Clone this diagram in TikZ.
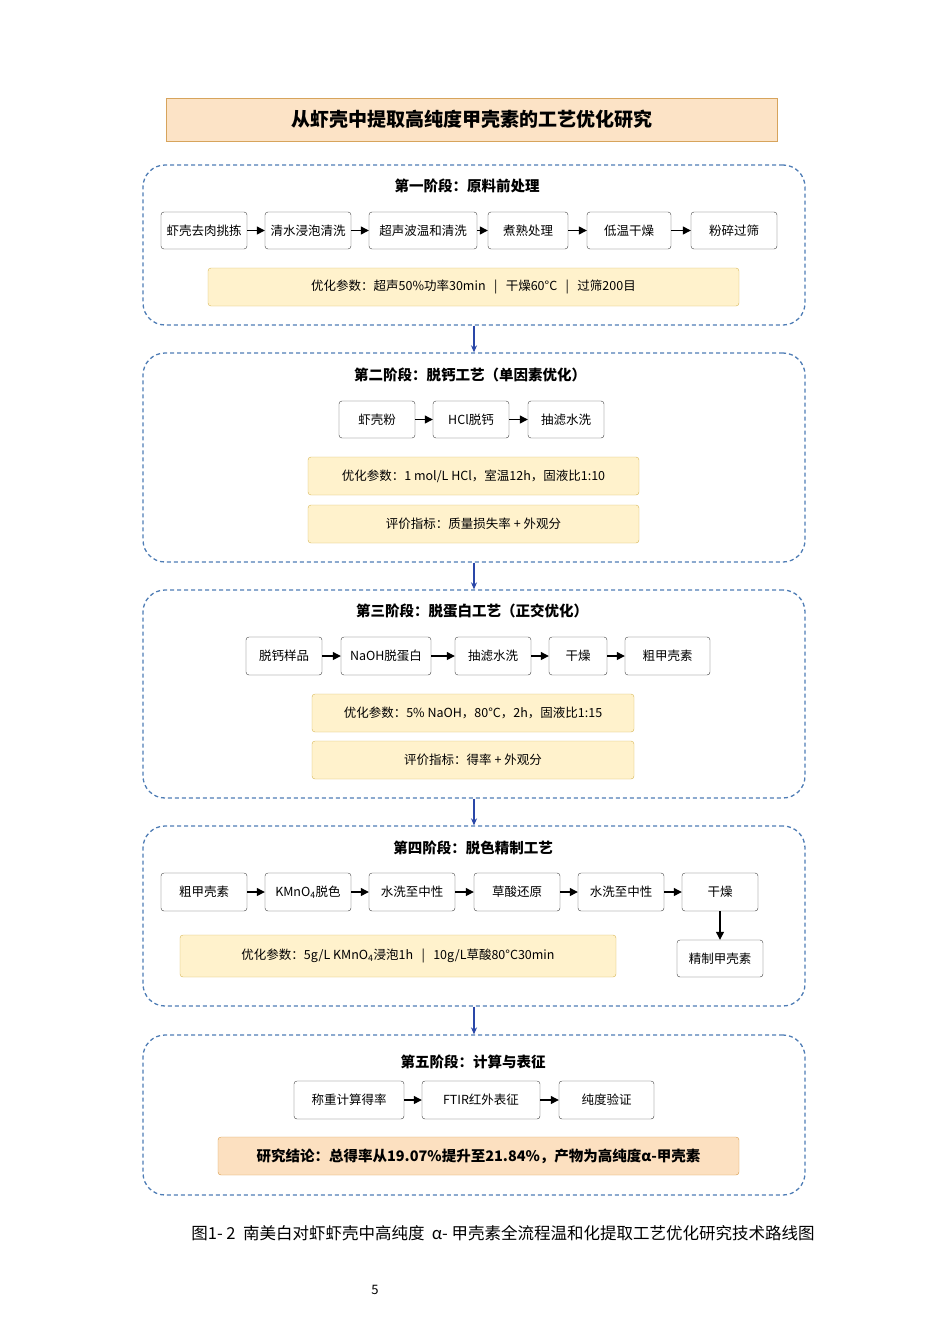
\documentclass[tikz,border=0pt]{standalone}
\usepackage{fontspec}
\setmainfont{Noto Sans CJK SC}
\usetikzlibrary{arrows.meta}
\definecolor{stageblue}{HTML}{4F7DB5}
\definecolor{linkblue}{HTML}{2A47A8}
\definecolor{parfill}{HTML}{FFF2CC}
\definecolor{pardraw}{HTML}{D6B656}
\definecolor{headfill}{HTML}{FCE3C6}
\definecolor{headdraw}{HTML}{D7A45C}
\definecolor{endfill}{HTML}{FCE0C0}
\definecolor{enddraw}{HTML}{D79B4A}
\tikzset{
  stage/.style={draw=stageblue, line width=1.3pt, dash pattern=on 4pt off 3pt, rounded corners=22pt, inner sep=0pt},
  proc/.style={draw=black!75, fill=white, rounded corners=3pt, inner sep=0pt, font=\fontsize{12.5}{14}\selectfont},
  param/.style={draw=pardraw, fill=parfill, rounded corners=3pt, inner sep=0pt, font=\fontsize{12.5}{14}\selectfont},
  stitle/.style={font=\fontsize{14.5}{16}\selectfont\bfseries},
  go/.style={-{Triangle[length=8pt,width=8pt]}, line width=1.2pt, black},
  link/.style={-{Stealth[length=7pt,width=6pt]}, line width=1.2pt, linkblue}
}
\newcommand{\rbox}[6]{% style, name, x1, y1, x2, y2
  \node[#1, minimum width={#5-#3}, minimum height={#6-#4}] (#2) at ({(#3+#5)/2},{(#4+#6)/2})}
\begin{document}
\begin{tikzpicture}[x=1pt, y=-1pt]
  \useasboundingbox (0,0) rectangle (950,1344);
  % title
  \rbox{draw=headdraw, fill=headfill, inner sep=0pt, font=\fontsize{19}{21}\selectfont\bfseries}{head}{166}{98}{777}{141} {从虾壳中提取高纯度甲壳素的工艺优化研究};

  % stage 1
  \rbox{stage}{s1}{143}{165}{805}{325} {};
  \node[stitle] (t1) at (467,186) {第一阶段：原料前处理};
  \rbox{proc}{a1}{161}{212}{247}{249} {虾壳去肉挑拣};
  \rbox{proc}{a2}{265}{212}{351}{249} {清水浸泡清洗};
  \rbox{proc}{a3}{369}{212}{477}{249} {超声波温和清洗};
  \rbox{proc}{a4}{488}{212}{568}{249} {煮熟处理};
  \rbox{proc}{a5}{587}{212}{671}{249} {低温干燥};
  \rbox{proc}{a6}{691}{212}{777}{249} {粉碎过筛};
  \rbox{param}{p1}{208}{268}{739}{306} {优化参数：超声50\%功率30min\ \ \ |\ \ \ 干燥60°C\ \ \ |\ \ \ 过筛200目};
  \draw[go] (a1) -- (a2);
  \draw[go] (a2) -- (a3);
  \draw[go] (a3) -- (a4);
  \draw[go] (a4) -- (a5);
  \draw[go] (a5) -- (a6);

  % stage 2
  \rbox{stage}{s2}{143}{353}{805}{562} {};
  \node[stitle] (t2) at (470,375) {第二阶段：脱钙工艺（单因素优化）};
  \rbox{proc}{b1}{339}{401}{415}{438} {虾壳粉};
  \rbox{proc}{b2}{433}{401}{509}{438} {HCl脱钙};
  \rbox{proc}{b3}{528}{401}{604}{438} {抽滤水洗};
  \rbox{param}{p2}{308}{457}{639}{495} {优化参数：1 mol/L HCl，室温12h，固液比1:10};
  \rbox{param}{q2}{308}{505}{639}{543} {评价指标：质量损失率 + 外观分};
  \draw[go] (b1) -- (b2);
  \draw[go] (b2) -- (b3);

  % stage 3
  \rbox{stage}{s3}{143}{590}{805}{798} {};
  \node[stitle] (t3) at (472,611) {第三阶段：脱蛋白工艺（正交优化）};
  \rbox{proc}{c1}{246}{637}{322}{675} {脱钙样品};
  \rbox{proc}{c2}{341}{637}{431}{675} {NaOH脱蛋白};
  \rbox{proc}{c3}{455}{637}{531}{675} {抽滤水洗};
  \rbox{proc}{c4}{549}{637}{607}{675} {干燥};
  \rbox{proc}{c5}{625}{637}{710}{675} {粗甲壳素};
  \rbox{param}{p3}{312}{694}{634}{732} {优化参数：5\% NaOH，80°C，2h，固液比1:15};
  \rbox{param}{q3}{312}{741}{634}{779} {评价指标：得率 + 外观分};
  \draw[go] (c1) -- (c2);
  \draw[go] (c2) -- (c3);
  \draw[go] (c3) -- (c4);
  \draw[go] (c4) -- (c5);

  % stage 4
  \rbox{stage}{s4}{143}{826}{805}{1006} {};
  \node[stitle] (t4) at (473,848) {第四阶段：脱色精制工艺};
  \rbox{proc}{d1}{161}{873}{247}{911} {粗甲壳素};
  \rbox{proc}{d2}{265}{873}{351}{911} {KMnO\textsubscript{4}脱色};
  \rbox{proc}{d3}{369}{873}{455}{911} {水洗至中性};
  \rbox{proc}{d4}{474}{873}{560}{911} {草酸还原};
  \rbox{proc}{d5}{578}{873}{664}{911} {水洗至中性};
  \rbox{proc}{d6}{682}{873}{758}{911} {干燥};
  \rbox{proc}{d7}{677}{940}{763}{977} {精制甲壳素};
  \rbox{param}{p4}{180}{935}{616}{977} {优化参数：5g/L KMnO\textsubscript{4}浸泡1h\ \ \ |\ \ \ 10g/L草酸80°C30min};
  \draw[go] (d1) -- (d2);
  \draw[go] (d2) -- (d3);
  \draw[go] (d3) -- (d4);
  \draw[go] (d4) -- (d5);
  \draw[go] (d5) -- (d6);
  \draw[go] (d6) -- (d7);

  % stage 5
  \rbox{stage}{s5}{143}{1035}{805}{1195} {};
  \node[stitle] (t5) at (473,1062) {第五阶段：计算与表征};
  \rbox{proc}{e1}{294}{1081}{404}{1119} {称重计算得率};
  \rbox{proc}{e2}{422}{1081}{540}{1119} {FTIR红外表征};
  \rbox{proc}{e3}{559}{1081}{654}{1119} {纯度验证};
  \rbox{draw=enddraw, fill=endfill, rounded corners=3pt, font=\fontsize{14.5}{16}\selectfont\bfseries}{res}{218}{1137}{739}{1175} {研究结论：总得率从19.07\%提升至21.84\%，产物为高纯度α-甲壳素};
  \draw[go] (e1) -- (e2);
  \draw[go] (e2) -- (e3);

  % links between stages
  \draw[link] (s1.south) -- (s2.north);
  \draw[link] (s2.south) -- (s3.north);
  \draw[link] (s3.south) -- (s4.north);
  \draw[link] (s4.south) -- (s5.north);

  \node[font=\fontsize{16.5}{18}\selectfont] (cap) at (503,1233) {图1- 2\ \ 南美白对虾虾壳中高纯度\ \ α-\ 甲壳素全流程温和化提取工艺优化研究技术路线图};
  \node[font=\fontsize{13}{15}\selectfont] (pg) at (375,1290) {5};
\end{tikzpicture}
\end{document}
